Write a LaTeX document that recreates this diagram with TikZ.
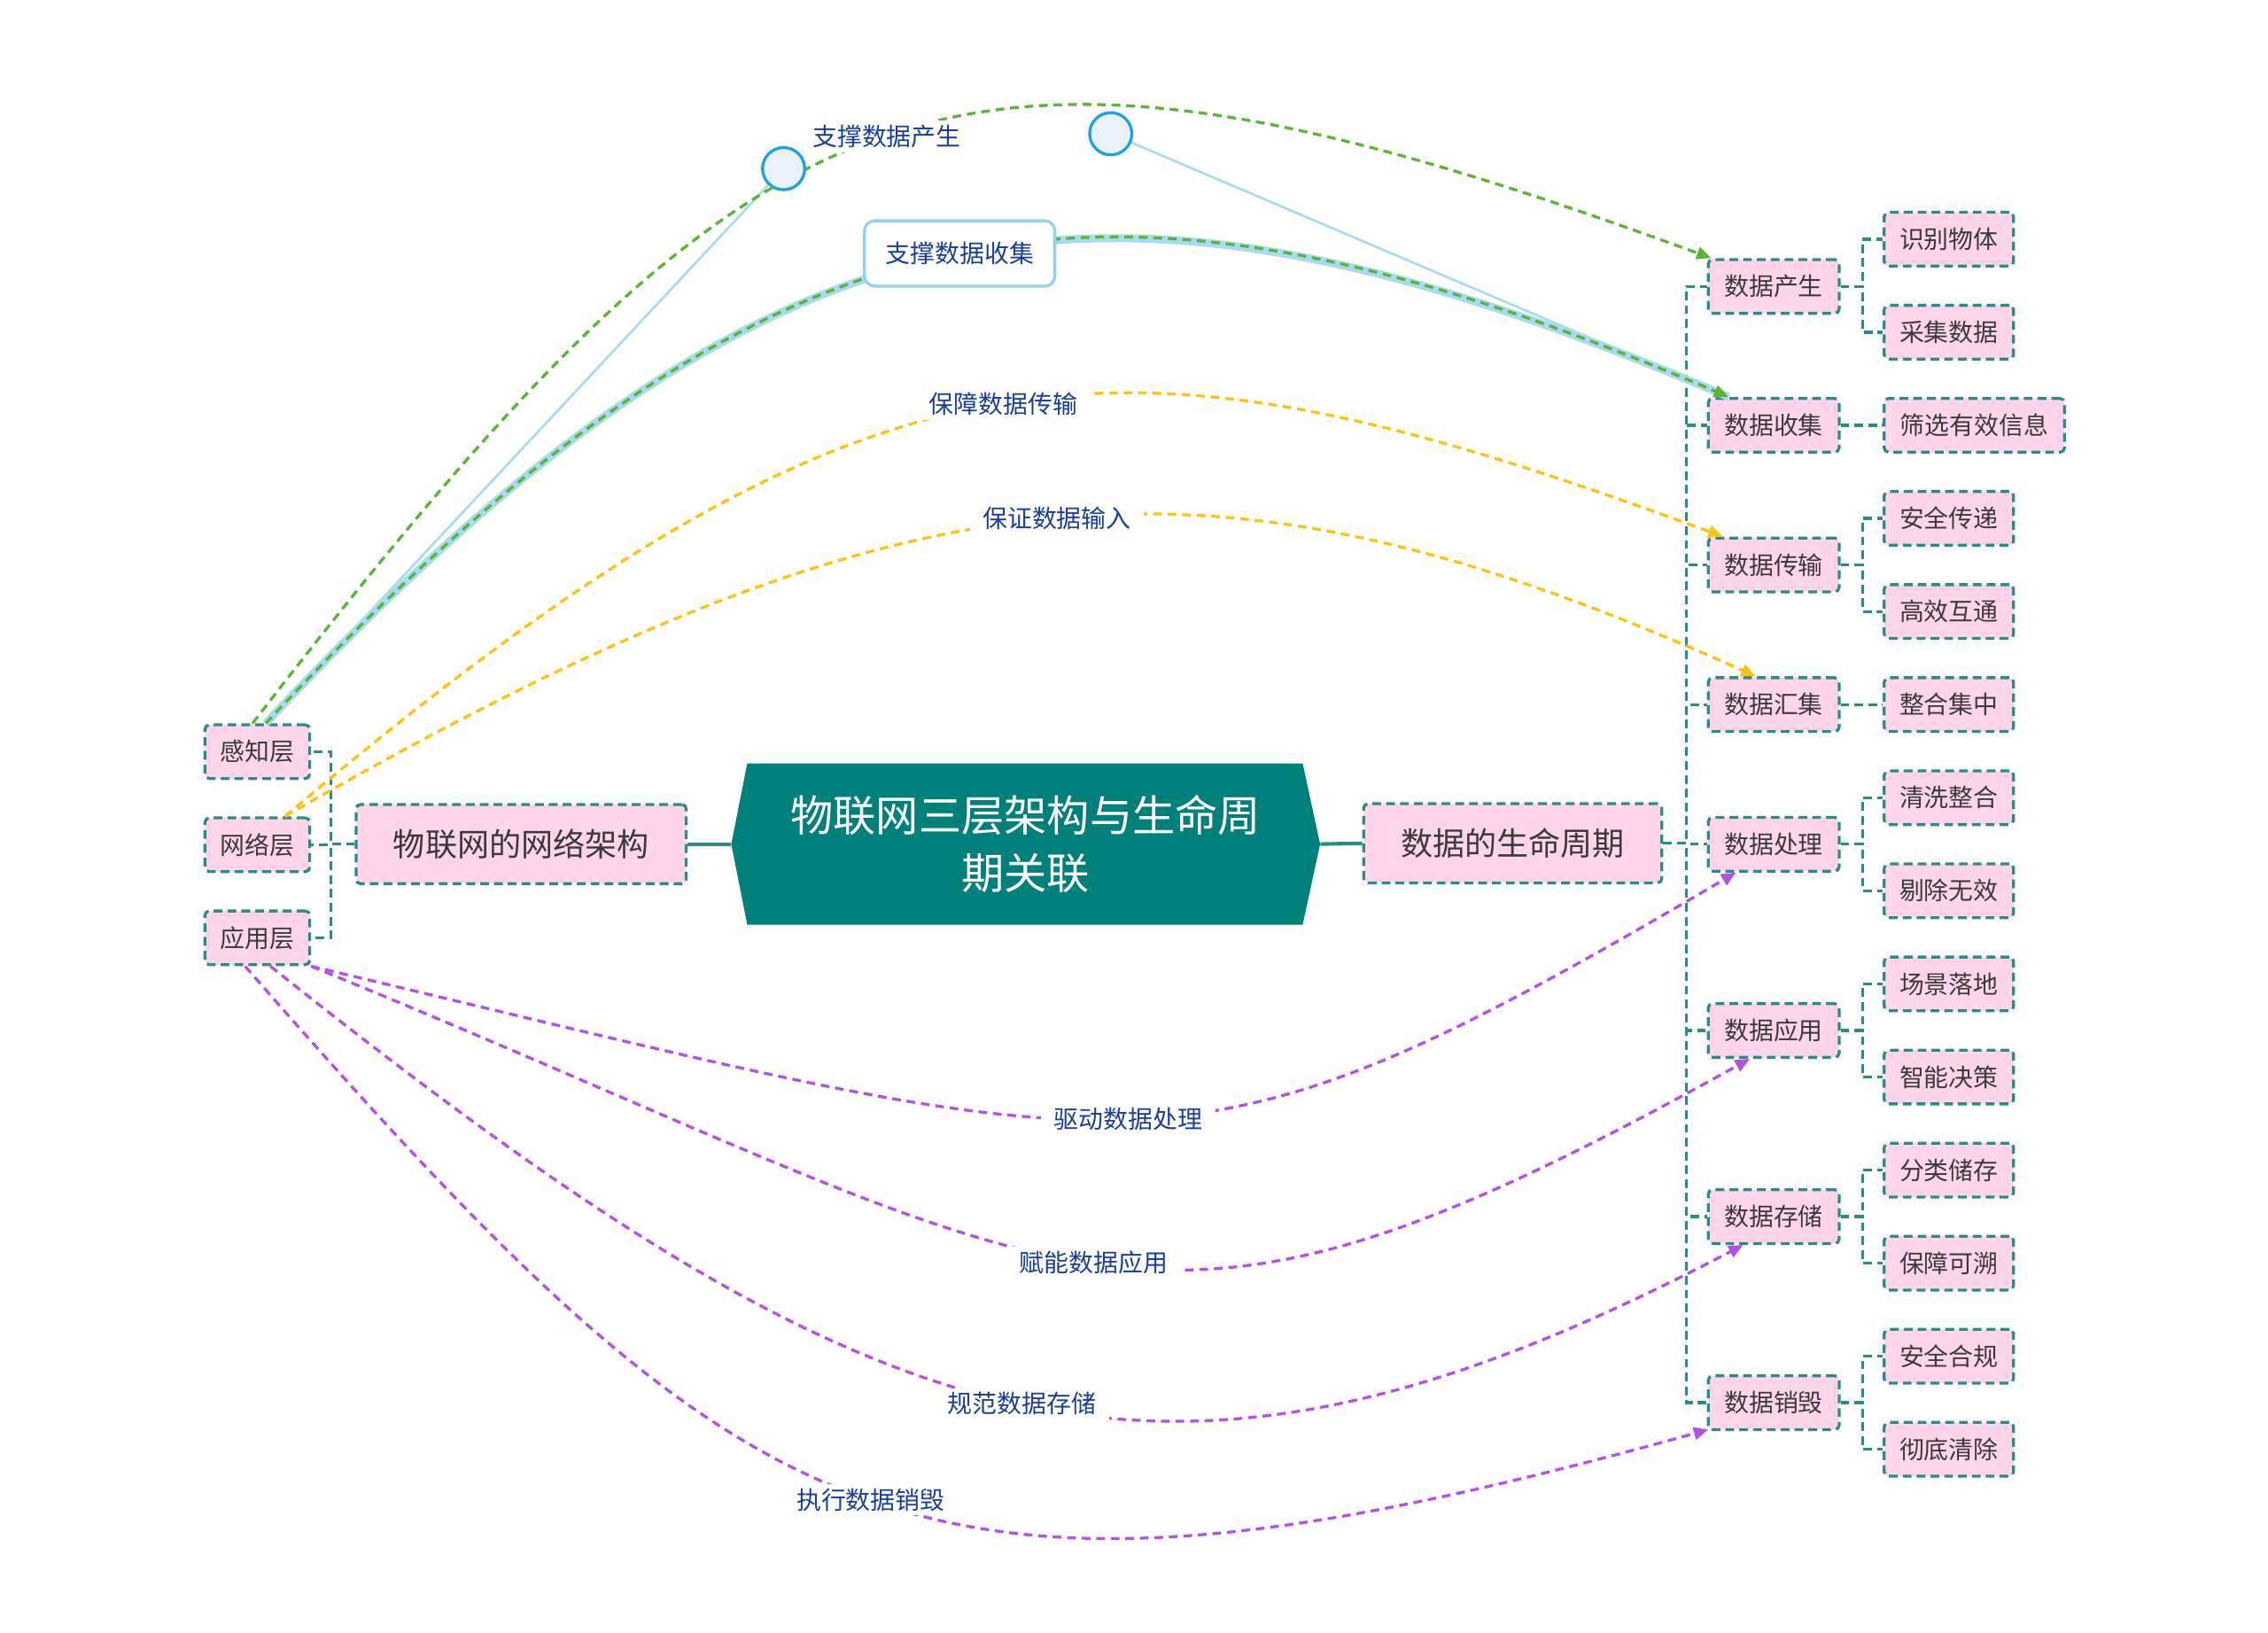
\documentclass[tikz,border=0pt]{standalone}
\usepackage{fontspec}
\setmainfont{Noto Sans CJK SC}
\usetikzlibrary{arrows.meta,calc}
\definecolor{treec}{HTML}{2A8C86}
\definecolor{pinkc}{HTML}{FFD5EC}
\definecolor{txtc}{HTML}{3A3A3A}
\definecolor{ctrc}{HTML}{00807A}
\definecolor{greenc}{HTML}{5AB532}
\definecolor{yellowc}{HTML}{FFC20E}
\definecolor{purplec}{HTML}{B44FEA}
\definecolor{labc}{HTML}{1B3D99}
\definecolor{glowc}{HTML}{A6DBF3}
\definecolor{selc}{HTML}{8ED2F5}
\definecolor{handc}{HTML}{1BA1E6}
\definecolor{handfill}{HTML}{EAF1F8}
\begin{document}
\begin{tikzpicture}[x=1pt,y=-1pt,
  box/.style={draw=treec, fill=pinkc, line width=2pt, dash pattern=on 6pt off 3.5pt,
    rounded corners=3pt, inner sep=0pt, minimum height=37pt, text=txtc,
    font=\fontsize{17}{17}\selectfont},
  lone/.style={box, minimum width=72pt},
  ltwo/.style={box, minimum width=90pt, anchor=west},
  lthree/.style={box, minimum width=89pt, anchor=west},
  midbox/.style={box, minimum height=54.5pt, font=\fontsize{22}{22}\selectfont},
  ctrtext/.style={text=white, font=\fontsize{29.4}{40}\selectfont, align=center,
    inner sep=0pt, minimum width=405pt, minimum height=111pt},
  tree/.style={draw=treec, line width=2pt, dash pattern=on 6pt off 3.5pt},
  link/.style={draw=treec, line width=2.5pt},
  rel/.style={draw=#1, line width=2pt, dash pattern=on 6pt off 4pt,
    -{Triangle[length=10pt,width=8.5pt]}},
  lab/.style={fill=white, text=labc, font=\fontsize{17}{17}\selectfont,
    inner xsep=9pt, inner ysep=3pt},
  selbox/.style={fill=white, draw=selc, solid, line width=2pt, rounded corners=7pt,
    text=labc, font=\fontsize{17}{17}\selectfont, minimum width=131pt, minimum height=45pt},
  glow/.style={draw=glowc, line width=5.5pt},
  handle/.style={draw=glowc, line width=1.6pt},
  handcirc/.style={circle, draw=handc, fill=handfill, line width=2pt, minimum size=29pt, inner sep=0pt}
]
\useasboundingbox (0,0) rectangle (1560,1123);

% central node
\fill[ctrc] (514,525) -- (896,525) -- (908,580.5) -- (896,636) -- (514,636) -- (503,580.5) -- cycle;
\node[ctrtext] (center) at (705.5,580.5) {物联网三层架构与生命周\\期关联};

% left side
\node[midbox, minimum width=227pt] (arch) at (358.5,580.5) {物联网的网络架构};
\node[lone] (sense) at (177,517) {感知层};
\node[lone] (net) at (177,581) {网络层};
\node[lone] (app) at (177,645) {应用层};

% right side
\node[midbox, minimum width=205pt] (life) at (1040.5,580) {数据的生命周期};

\node[ltwo] (pgen) at (1174,197) {数据产生};
\node[ltwo] (pcol) at (1174,292.5) {数据收集};
\node[ltwo] (ptra) at (1174,388.5) {数据传输};
\node[ltwo] (pagg) at (1174,484.6) {数据汇集};
\node[ltwo] (pproc) at (1174,580.6) {数据处理};
\node[ltwo] (papp) at (1174,708.7) {数据应用};
\node[ltwo] (psto) at (1174,836.7) {数据存储};
\node[ltwo] (pdes) at (1174,964.7) {数据销毁};

\node[lthree] (g1) at (1295,164.5) {识别物体};
\node[lthree] (g2) at (1295,228.5) {采集数据};
\node[lthree, minimum width=124pt] (c1) at (1295,292.5) {筛选有效信息};
\node[lthree] (t1) at (1295,356.5) {安全传递};
\node[lthree] (t2) at (1295,420.6) {高效互通};
\node[lthree] (a1) at (1295,484.6) {整合集中};
\node[lthree] (r1) at (1295,548.6) {清洗整合};
\node[lthree] (r2) at (1295,612.6) {剔除无效};
\node[lthree] (u1) at (1295,676.7) {场景落地};
\node[lthree] (u2) at (1295,740.7) {智能决策};
\node[lthree] (s1) at (1295,804.7) {分类储存};
\node[lthree] (s2) at (1295,868.7) {保障可溯};
\node[lthree] (d1) at (1295,932.7) {安全合规};
\node[lthree] (d2) at (1295,996.7) {彻底清除};

% tree connectors
\draw[link] (arch.east) -- (center.west);
\draw[link] (center.east) -- (life.west);
\foreach \n in {sense,net,app} \draw[tree] (arch.west) -- ++(-16.5,0) |- (\n.east);
\foreach \n in {pgen,pcol,ptra,pagg,pproc,papp,psto,pdes} \draw[tree] (life.east) -- ++(16,0) |- (\n.west);
\foreach \a/\b in {pgen/g1,pgen/g2,pcol/c1,ptra/t1,ptra/t2,pagg/a1,pproc/r1,pproc/r2,papp/u1,papp/u2,psto/s1,psto/s2,pdes/d1,pdes/d2}
  \draw[tree] (\a.east) -- ++(15,0) |- (\b.west);

% handles of the selected connector
\coordinate (h1c) at (539,116);
\coordinate (h2c) at (764,92);
\draw[handle] (h1c) -- ([xshift=5.8pt]sense.north);
\draw[handle] (h2c) -- ([xshift=15pt]pcol.north west);

% green relations
\draw[rel=greenc] ([xshift=-3.3pt]sense.north) .. controls (526.5,40.8) and (649.8,-16) .. ([xshift=3pt]pgen.north west)
  node[lab, pos=0.5] (lgen) {支撑数据产生};
\draw[glow] ([xshift=5.8pt]sense.north) .. controls (h1c) and (h2c) .. ([xshift=15pt]pcol.north west);
\draw[rel=greenc] ([xshift=5.8pt]sense.north) .. controls (h1c) and (h2c) .. ([xshift=15pt]pcol.north west)
  node[selbox, pos=0.5] (lcol) {支撑数据收集};

% yellow relations
\draw[rel=yellowc] ([xshift=19pt]net.north) .. controls (607.6,213.1) and (772.1,217.2) .. ([xshift=11pt]ptra.north west)
  node[lab, pos=0.5] (ltra) {保障数据传输};
\draw[rel=yellowc] ([xshift=19pt]net.north) .. controls (633,309.5) and (837.7,299.4) .. ([xshift=33.6pt]pagg.north west)
  node[lab, pos=0.5] (lagg) {保证数据输入};

% purple relations
\draw[rel=purplec] (app.south east) .. controls (793.8,802.4) and (806.5,827.6) .. ([xshift=20pt]pproc.south west)
  node[lab, pos=0.5] (lproc) {驱动数据处理};
\draw[rel=purplec] (app.south east) .. controls (757.3,886.2) and (775.8,965.5) .. ([xshift=29.5pt]papp.south west)
  node[lab, pos=0.5] (lapp) {赋能数据应用};
\draw[rel=purplec] ([xshift=9pt]app.south) .. controls (611.2,1003.2) and (801.8,1064.5) .. ([xshift=25pt]psto.south west)
  node[lab, pos=0.5] (lsto) {规范数据存储};
\draw[rel=purplec] ([xshift=-8.4pt]app.south) .. controls (519.7,1066.3) and (629.6,1134.7) .. ([xshift=1pt,yshift=1pt]pdes.south west)
  node[lab, pos=0.5] (ldes) {执行数据销毁};

% handle circles
\node[handcirc] (h1) at (h1c) {};
\node[handcirc] (h2) at (h2c) {};
\end{tikzpicture}
\end{document}
